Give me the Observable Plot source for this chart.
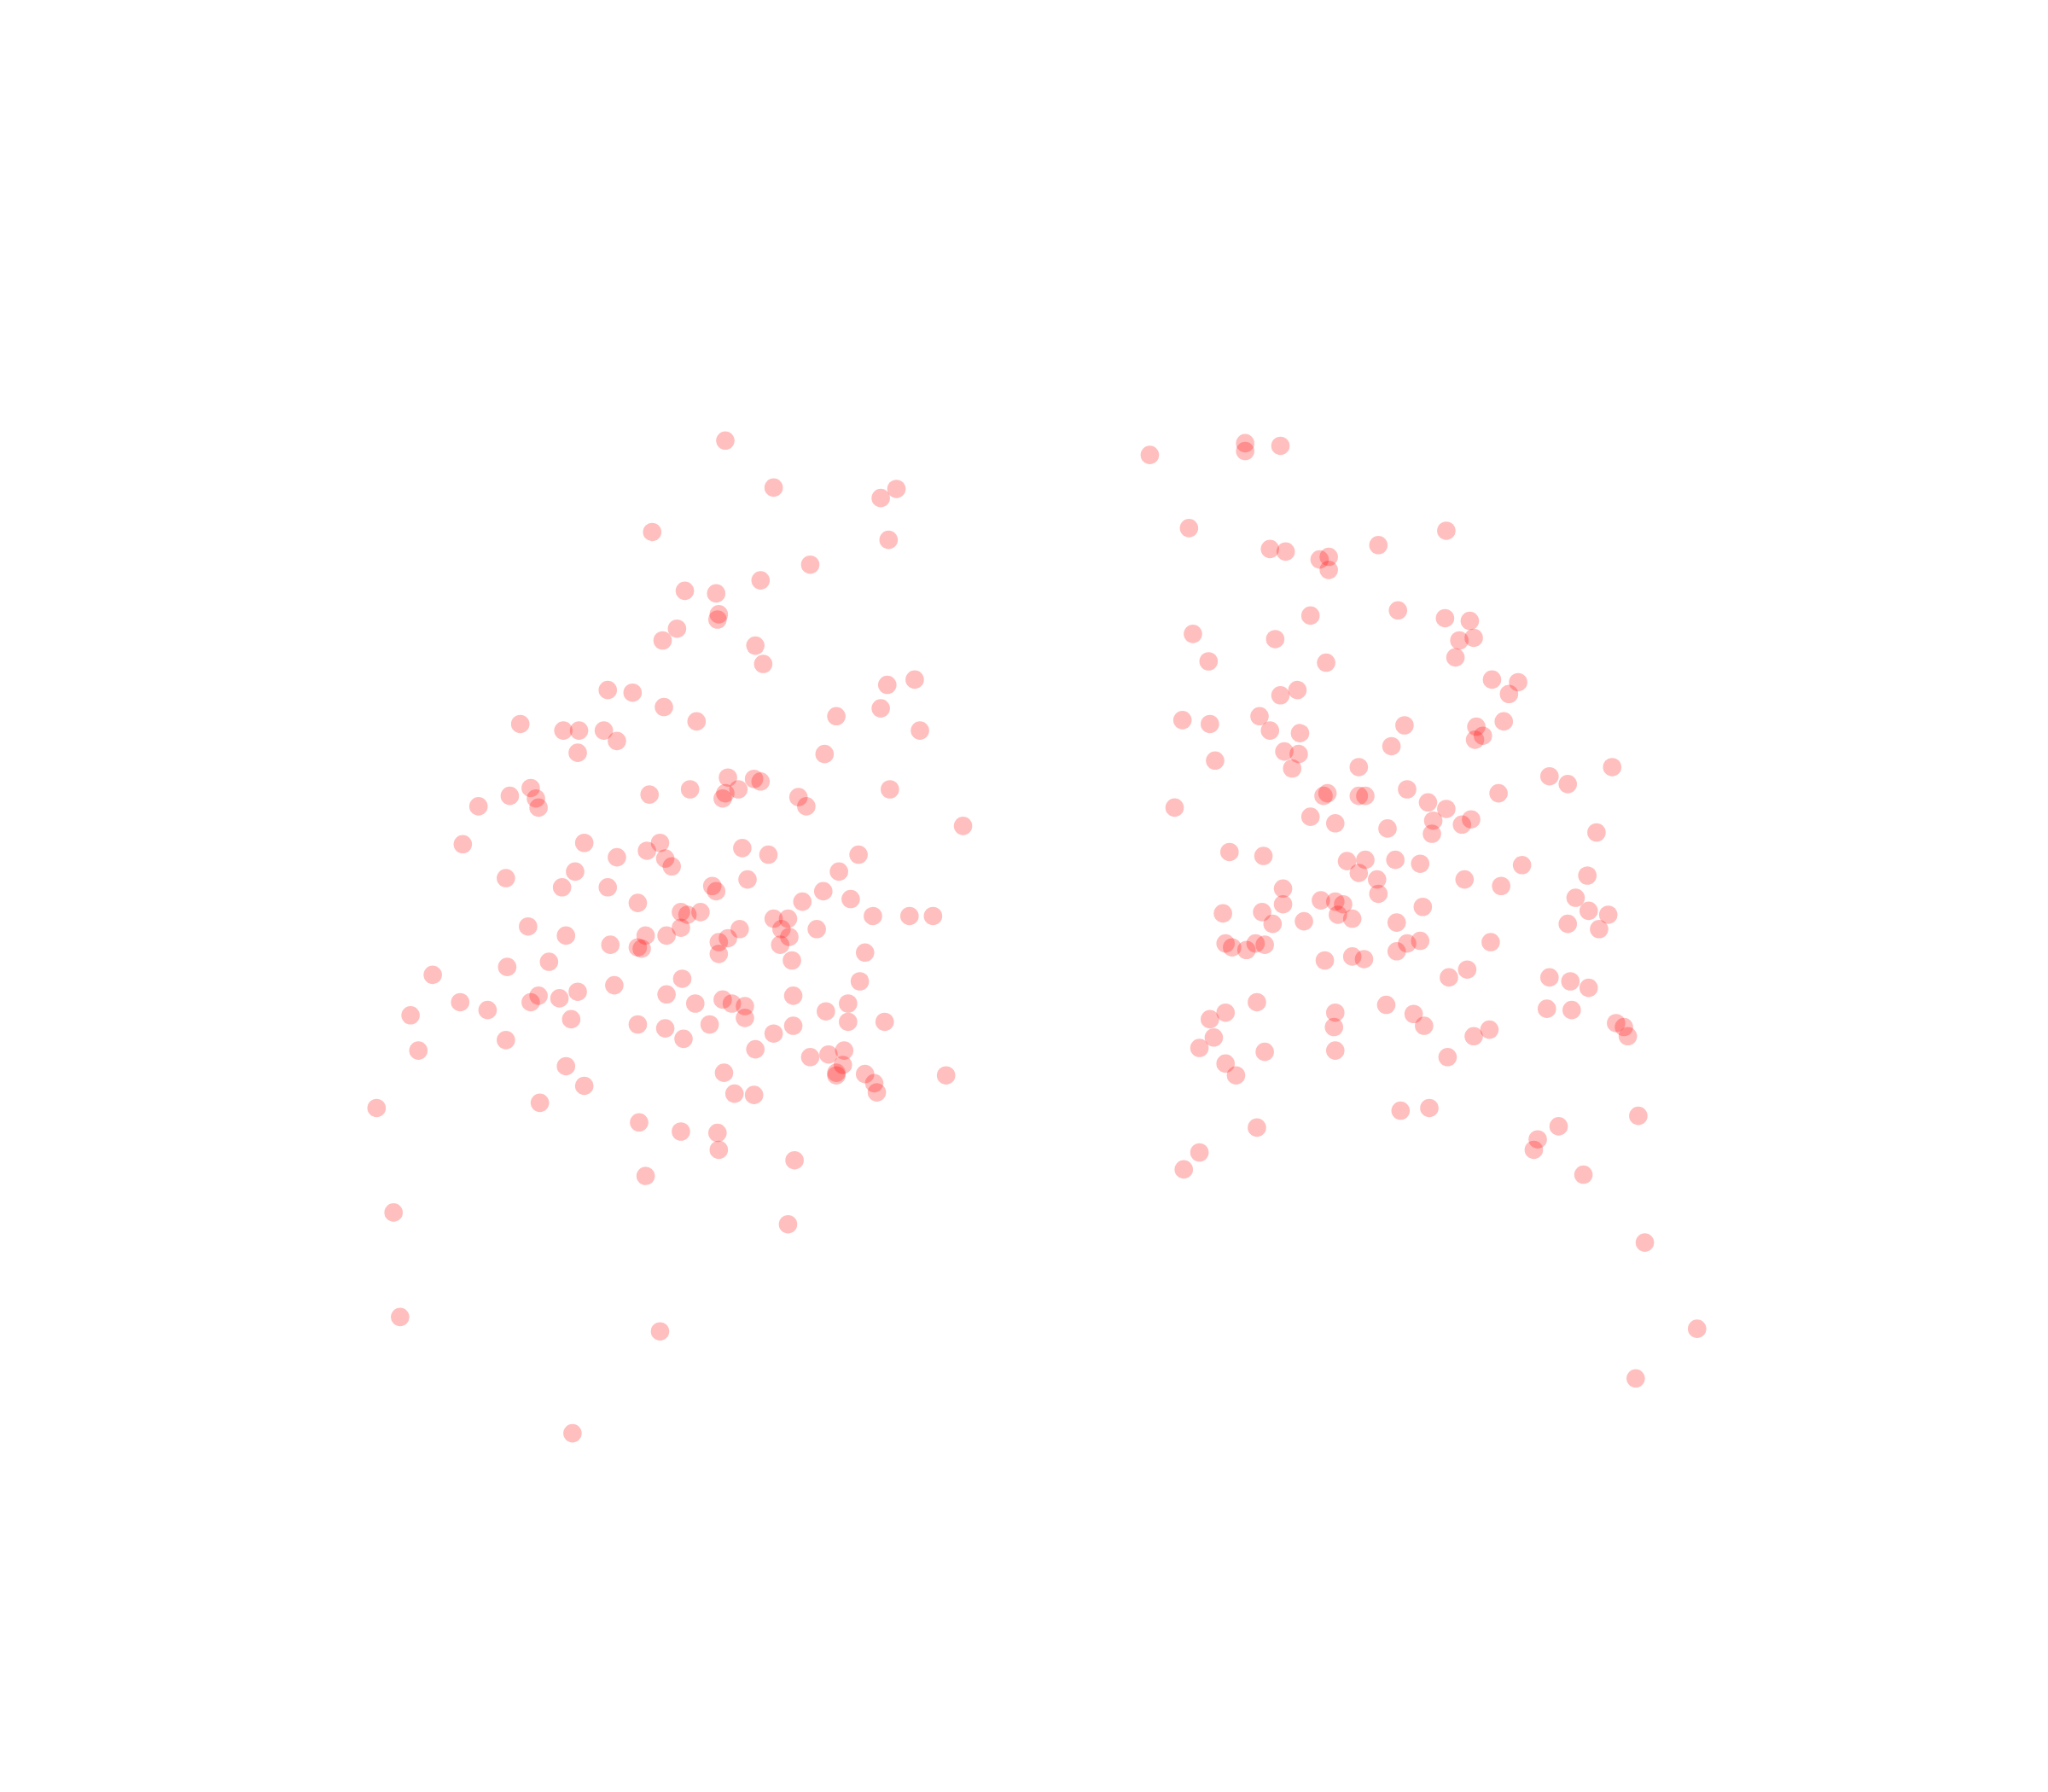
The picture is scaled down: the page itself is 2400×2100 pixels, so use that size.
<!DOCTYPE html>
<html>
<head>
<meta charset="utf-8">
<script src="https://cdn.jsdelivr.net/npm/d3@7"></script>
<script src="https://cdn.jsdelivr.net/npm/@observablehq/plot@0.6"></script>
<style>
html,body{margin:0;padding:0;background:#fff;overflow:hidden;}
</style>
</head>
<body>
<div id="chart"></div>
<script>
// Group A (left cluster): x values, y values
const groupA_x = [555,592,674,686,499,680,620,582,524,548,550,549,518,507,578,584,700,679,465,484,508,674,640,533,398,431,443,462,704,472,442,631,557,577,582,565,406,528,681,390,410,555,553,497,611,366,412,617,737,354,447,505,568,495,588,472,657,509,514,440,642,387,572,430,465,545,548,630,651,488,614,536,521,526,668,696,714,592,603,404,566,521,625,598,604,433,494,510,557,467,550,488,491,597,550,662,420,606,388,331,522,658,470,442,412,510,607,428,406,352,553,560,532,570,649,632,373,314,437,570,488,543,677,607,649,509,592,387,523,578,320,620,634,646,645,433,640,640,554,662,724,669,671,447,562,577,413,288,489,521,549,550,608,494,301,603,306,505,438];
const groupA_y = [337,373,381,374,407,413,432,444,452,454,470,474,481,490,494,508,520,524,528,530,541,542,548,552,554,559,559,559,559,567,576,577,595,596,598,604,603,604,604,609,611,607,611,608,610,617,618,617,632,646,645,645,649,651,654,656,654,657,663,667,667,672,673,679,679,678,682,682,688,691,690,698,698,700,701,701,701,703,703,709,711,710,711,711,717,716,716,716,718,723,721,725,726,723,730,729,736,735,740,746,749,751,754,759,762,761,762,764,767,767,765,768,768,770,768,774,773,777,780,779,784,784,782,785,782,787,791,796,795,803,804,809,807,804,815,816,821,823,821,822,823,829,836,831,837,838,844,848,859,866,867,880,888,900,928,937,1008,1019,1097];
// Group B (right cluster)
const groupB_x = [880,953,953,980,910,1107,1055,972,984,1010,1017,1017,1003,1070,1106,1125,913,976,1117,1128,1114,925,1015,1142,1162,1155,993,980,964,905,926,1075,1151,1130,972,995,1135,1129,1065,983,994,930,989,1040,1234,1186,1200,1077,1016,1013,1040,1045,1147,1093,1107,899,1003,1097,1126,1119,1022,1062,1096,1222,941,967,1031,1045,1068,1087,1165,1040,1054,1215,982,1121,1149,1055,1011,1022,1028,982,1206,1089,1024,936,966,1035,998,974,1069,1216,1231,1200,1224,1087,1077,1069,938,943,961,968,954,1141,1035,1014,1044,1123,1109,1186,1202,1216,962,1061,1184,1203,938,1022,926,1082,1090,1021,1237,1243,1140,1128,1246,929,918,968,1022,1108,938,946,1072,1094,1254,962,1193,1177,1174,918,906,1212,1259,1299,1252];
const groupB_y = [348,339,345,341,404,406,417,420,422,428,426,436,471,467,473,475,485,489,490,488,503,506,507,520,522,531,528,532,548,551,554,555,552,556,559,561,563,566,571,575,577,582,588,587,587,594,600,604,607,609,609,609,607,614,619,618,625,628,627,631,630,634,638,637,652,655,659,658,658,661,662,668,673,670,680,673,678,684,689,690,692,692,687,694,700,699,698,703,705,707,706,697,700,707,711,720,722,728,722,725,722,723,727,721,732,735,734,742,748,748,751,756,767,769,772,773,775,775,780,776,785,786,783,786,788,793,793,794,802,805,804,809,814,823,850,848,854,863,862,872,880,882,895,899,951,1017,1055];

const points = [
  ...groupA_x.map((x, i) => ({x, y: groupA_y[i], group: "A"})),
  ...groupB_x.map((x, i) => ({x, y: groupB_y[i], group: "B"}))
];

const chart = Plot.plot({
  width: 2400,
  height: 2100,
  margin: 0,
  x: {domain: [0, 1568], range: [0, 2400], axis: null},
  y: {domain: [0, 1372], range: [0, 2100], axis: null},
  style: {background: "#ffffff"},
  marks: [
    Plot.dot(points, {x: "x", y: "y", r: 10.8, fill: "red", fillOpacity: 0.25, stroke: "none"})
  ]
});
document.getElementById("chart").appendChild(chart);
</script>
</body>
</html>
